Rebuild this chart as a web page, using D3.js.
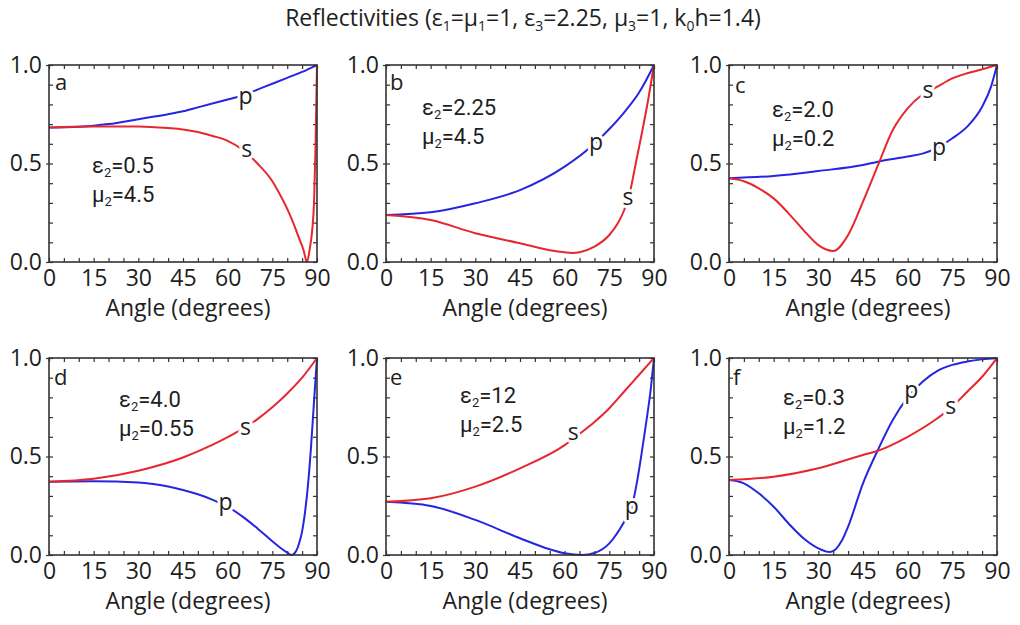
<!DOCTYPE html>
<html><head><meta charset="utf-8">
<script src="https://cdn.jsdelivr.net/npm/d3@7"></script>
<style>
body{margin:0;background:#fff}
svg{display:block}
text{font-family:"Open Sans",sans-serif;fill:#1e1e1e}
</style>
</head><body>
<svg id="chart" width="1020" height="625"></svg>
<script>
// ---------------- data ----------------
const panelLetters = ["a","b","c","d","e","f"];
const eps2Labels = ["0.5","2.25","2.0","4.0","12","0.3"];
const mu2Labels  = ["4.5","4.5","0.2","0.55","2.5","1.2"];
const xTickValues = [0,15,30,45,60,75,90];
const yTickValues = [0,0.5,1.0];
const xAxisTitle = "Angle (degrees)";

// panel a
const aAngleP = [0,10,15,20,30,40,45,50,60,65,70,75,80,85,90];
const aValueP = [0.683,0.687,0.692,0.700,0.725,0.750,0.765,0.785,0.825,0.845,0.875,0.905,0.935,0.965,1.0];
const aAngleS = [0,15,30,40,45,50,55,60,65,70,75,78,80,82,84,85.5,86.6,87.5,88.5,89,89.5,90];
const aValueS = [0.683,0.688,0.688,0.680,0.673,0.660,0.640,0.615,0.570,0.500,0.410,0.330,0.270,0.200,0.120,0.060,0.0,0.06,0.18,0.30,0.58,1.0];
// panel b
const bAngleP = [0,15,30,45,60,70,75,80,85,90];
const bValueP = [0.238,0.252,0.298,0.365,0.484,0.600,0.675,0.760,0.860,1.0];
const bAngleS = [0,15,30,45,55,60,62.5,65,70,75,78,80,82,84,86,88,90];
const bValueS = [0.238,0.213,0.146,0.095,0.060,0.049,0.046,0.050,0.078,0.137,0.200,0.264,0.360,0.510,0.660,0.820,1.0];
// panel c
const cAngleP = [0,15,30,45,50,60,65,70,75,80,85,88,90];
const cValueP = [0.425,0.437,0.462,0.492,0.509,0.535,0.550,0.580,0.628,0.687,0.788,0.890,1.0];
const cAngleS = [0,5,10,15,20,25,30,35,40,45,50,55,60,65,70,75,80,85,90];
const cValueS = [0.425,0.410,0.374,0.323,0.247,0.162,0.086,0.056,0.137,0.306,0.490,0.670,0.780,0.850,0.890,0.932,0.958,0.978,1.0];
// panel d
const dAngleS = [0,15,30,45,55,60,65,70,75,80,85,90];
const dValueS = [0.372,0.387,0.428,0.495,0.560,0.598,0.640,0.690,0.750,0.820,0.900,1.0];
const dAngleP = [0,15,30,35,40,45,50,55,60,65,70,75,78,80,81.5,83,84,85,86,87,88,89,90];
const dValueP = [0.372,0.374,0.368,0.360,0.348,0.330,0.308,0.280,0.245,0.195,0.135,0.070,0.033,0.012,0.0,0.020,0.060,0.120,0.220,0.360,0.550,0.780,1.0];
// panel e
const eAngleS = [0,15,30,45,60,65,70,75,80,85,90];
const eValueS = [0.270,0.288,0.347,0.440,0.558,0.615,0.675,0.745,0.830,0.915,1.0];
const eAngleP = [0,15,30,45,55,60,66,70,75,80,82.5,84,87,89,90];
const eValueP = [0.270,0.249,0.178,0.085,0.029,0.009,0.0,0.010,0.059,0.169,0.240,0.347,0.634,0.854,1.0];
// panel f
const fAngleS = [0,15,30,45,50,60,70,74.5,80,85,90];
const fValueS = [0.381,0.397,0.440,0.508,0.529,0.600,0.694,0.746,0.829,0.905,1.0];
const fAngleP = [0,5,10,15,20,25,30,34,38,40,45,50,55,60,65,70,75,80,85,90];
const fValueP = [0.381,0.364,0.313,0.245,0.160,0.085,0.034,0.015,0.076,0.144,0.364,0.533,0.685,0.800,0.880,0.935,0.965,0.982,0.993,1.0];

// curve-label anchors [angle, value]
const pLabelAt = [[66,0.835],[70.5,0.60],[70.5,0.574],[59.3,0.259],[82.5,0.241],[61.2,0.825]];
const sLabelAt = [[66.4,0.563],[81.3,0.32],[66.8,0.864],[66,0.64],[62.9,0.614],[74.5,0.746]];

// ---------------- layout ----------------
const colLeft = [49,386,729];
const rowTop = [65,358];
const plotW = 268, plotH = 197;
const blue = "#2626e0", red = "#e6282e";
const letterPos = [[6,25],[4,25],[6,28],[5,27],[4,27],[4,27]];
const paramPos  = [[43,108],[36,50],[43,52],[70,49],[74,45],[54,47]];
const FONT = "'Open Sans',sans-serif";
const PARAM_FONT = "Roboto,'Open Sans',sans-serif";

const panels = [
  {p:[aAngleP,aValueP], s:[aAngleS,aValueS]},
  {p:[bAngleP,bValueP], s:[bAngleS,bValueS]},
  {p:[cAngleP,cValueP], s:[cAngleS,cValueS]},
  {p:[dAngleP,dValueP], s:[dAngleS,dValueS]},
  {p:[eAngleP,eValueP], s:[eAngleS,eValueS]},
  {p:[fAngleP,fValueP], s:[fAngleS,fValueS]}
];

const svg = d3.select("#chart");

function addSub(t, base, sub, after, subSize, dy){
  t.append("tspan").text(base);
  t.append("tspan").attr("dy",dy).style("font-size",subSize).text(sub);
  t.append("tspan").attr("dy",-dy).text(after);
}

// title
const title = svg.append("text").attr("x",523).attr("y",26).attr("text-anchor","middle")
  .style("font-size","23px");
title.append("tspan").text("Reflectivities (");
addSub(title,"ε","1","=","14px",5);
addSub(title,"μ","1","=1, ","14px",5);
addSub(title,"ε","3","=2.25, ","14px",5);
addSub(title,"μ","3","=1, ","14px",5);
addSub(title,"k","0","h=1.4)","14px",5);

panels.forEach((pn,i)=>{
  const left = colLeft[i%3], top = rowTop[Math.floor(i/3)];
  const g = svg.append("g").attr("transform",`translate(${left},${top})`);
  const x = d3.scaleLinear().domain([0,90]).range([0,plotW]);
  const y = d3.scaleLinear().domain([0,1]).range([plotH,0]);
  const line = d3.line().x(d=>x(d[0])).y(d=>y(d[1])).curve(d3.curveMonotoneX);

  // minor ticks (inward) on all sides
  const xMinor = d3.range(0,91,5), yMinor = d3.range(0,1.0001,0.1);
  const tk = "#333";
  const styleTicks = a=>{a.select(".domain").remove(); a.selectAll("line").attr("stroke",tk).attr("stroke-width",1.2);};
  g.append("g").attr("transform",`translate(0,${plotH})`)
    .call(d3.axisBottom(x).tickValues(xMinor).tickSize(-4).tickFormat("")).call(styleTicks);
  g.append("g")
    .call(d3.axisTop(x).tickValues(xMinor).tickSize(-4).tickFormat("")).call(styleTicks);
  g.append("g")
    .call(d3.axisLeft(y).tickValues(yMinor).tickSize(-4).tickFormat("")).call(styleTicks);
  g.append("g").attr("transform",`translate(${plotW},0)`)
    .call(d3.axisRight(y).tickValues(yMinor).tickSize(-4).tickFormat("")).call(styleTicks);

  // labelled axes
  g.append("g").attr("transform",`translate(0,${plotH})`)
    .call(d3.axisBottom(x).tickValues(xTickValues).tickSize(0).tickPadding(8).tickFormat(d3.format("d")))
    .call(a=>{a.select(".domain").remove(); a.selectAll("text").style("font-size","23px").style("font-family",FONT).attr("fill","#1e1e1e");});
  g.append("g")
    .call(d3.axisLeft(y).tickValues(yTickValues).tickSize(3).tickPadding(4).tickFormat(d3.format(".1f")))
    .call(a=>{a.select(".domain").remove(); a.selectAll("line").attr("stroke",tk).attr("stroke-width",1.2); a.selectAll("text").style("font-size","23px").style("font-family",FONT).attr("fill","#1e1e1e");});

  // axis title
  g.append("text").attr("x",plotW/2+5).attr("y",plotH+54).attr("text-anchor","middle")
    .style("font-size","23px").text(xAxisTitle);

  // curves
  const pts = arr => arr[0].map((a,k)=>[a,arr[1][k]]);
  g.append("path").datum(pts(pn.p)).attr("d",line).attr("fill","none").attr("stroke",blue).attr("stroke-width",2);
  g.append("path").datum(pts(pn.s)).attr("d",line).attr("fill","none").attr("stroke",red).attr("stroke-width",2);

  // frame
  g.append("rect").attr("width",plotW).attr("height",plotH).attr("fill","none").attr("stroke","#333").attr("stroke-width",1.6);

  // curve labels
  [["p",pLabelAt[i]],["s",sLabelAt[i]]].forEach(([t,pos])=>{
    g.append("text").attr("x",x(pos[0])).attr("y",y(pos[1])+6).attr("text-anchor","middle")
      .style("font-size","23px").attr("stroke","#fff").attr("stroke-width",6)
      .attr("paint-order","stroke").attr("stroke-linejoin","round").text(t);
  });

  // panel letter
  g.append("text").attr("x",letterPos[i][0]).attr("y",letterPos[i][1]).style("font-size","22px").text(panelLetters[i]);

  // parameters
  const px = paramPos[i][0], py = paramPos[i][1];
  const e = g.append("text").attr("x",px).attr("y",py).style("font-size","22px").style("font-family",PARAM_FONT);
  addSub(e,"ε","2","="+eps2Labels[i],"13px",4);
  const m = g.append("text").attr("x",px).attr("y",py+29).style("font-size","22px").style("font-family",PARAM_FONT);
  addSub(m,"μ","2","="+mu2Labels[i],"13px",4);
});
</script>
</body></html>
